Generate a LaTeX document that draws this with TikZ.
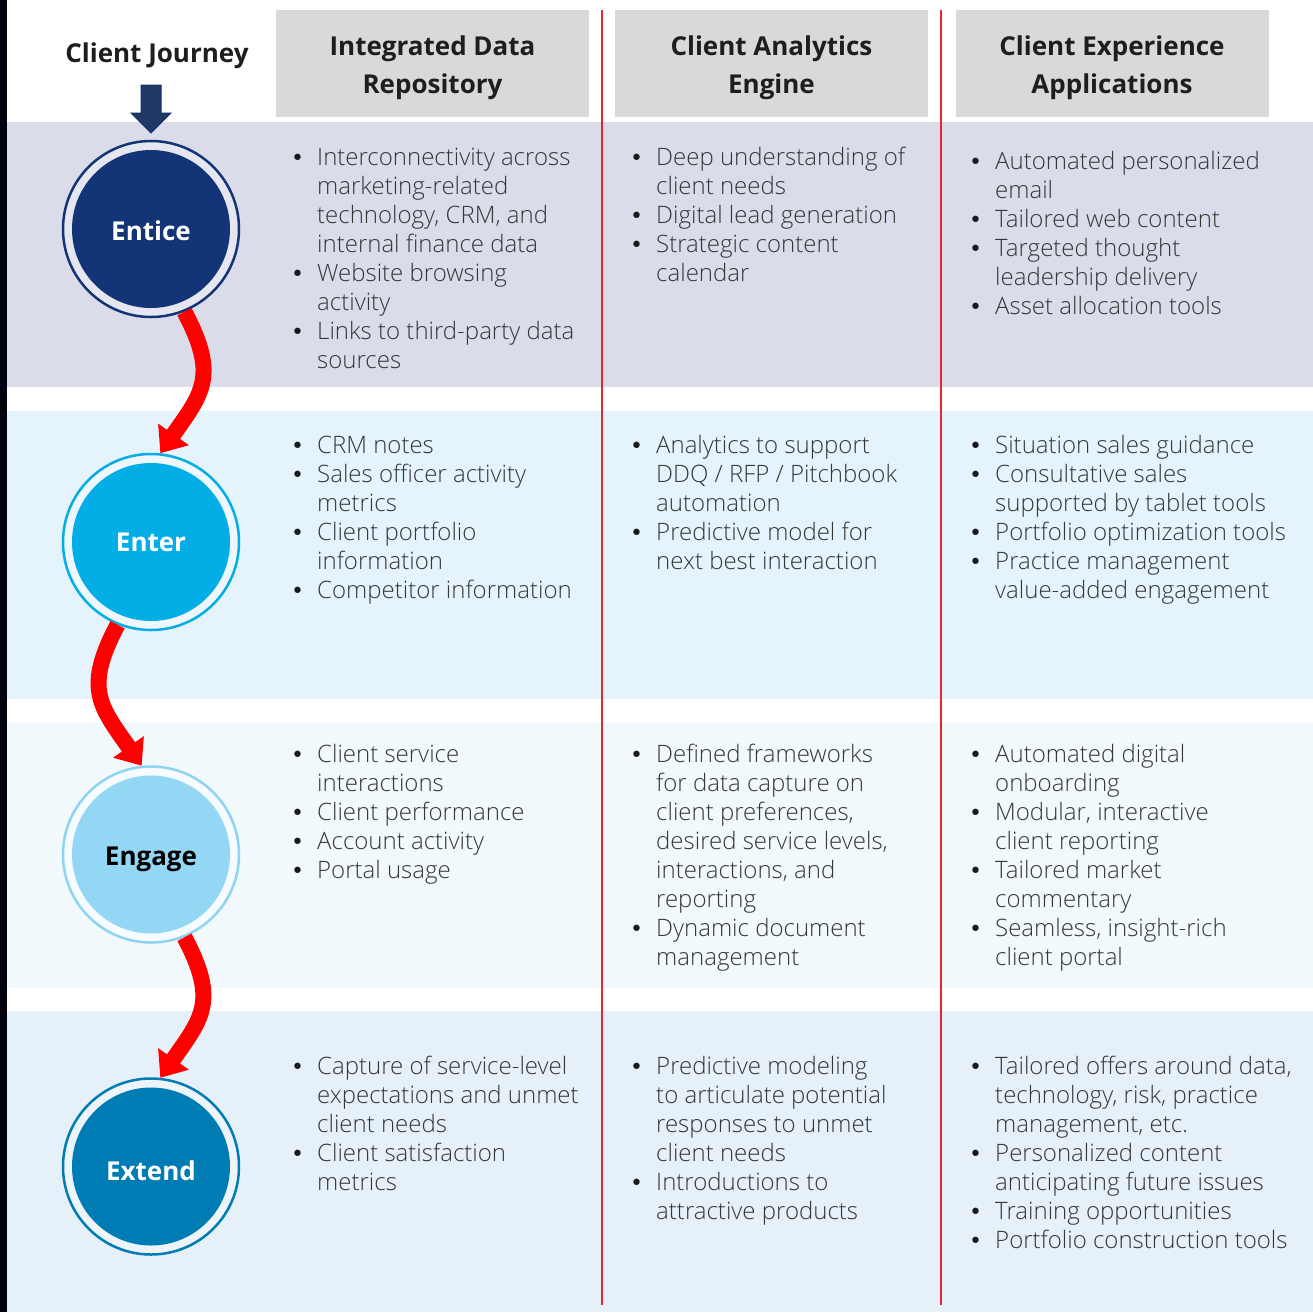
\documentclass[tikz,border=0pt]{standalone}
\usepackage{fontspec}
\setmainfont{Open Sans}
\newfontfamily\lightfont{Open Sans Light}
\newfontfamily\bulfont{DejaVu Sans}
\usetikzlibrary{arrows.meta}
\definecolor{edgeblk}{HTML}{02030F}
\definecolor{hdrgray}{HTML}{D9D9D9}
\definecolor{bandA}{HTML}{DADCEA}
\definecolor{bandB}{HTML}{E5F4FC}
\definecolor{bandC}{HTML}{F1F9FD}
\definecolor{bandD}{HTML}{E5F0F8}
\definecolor{cEntice}{HTML}{133577}
\definecolor{cEnter}{HTML}{03ADE6}
\definecolor{cEngage}{HTML}{93D7F5}
\definecolor{cEngageRing}{HTML}{8FD3F3}
\definecolor{cExtend}{HTML}{007CB5}
\definecolor{sepred}{HTML}{E8262B}
\definecolor{navy}{HTML}{1F3864}
\definecolor{navyline}{HTML}{14306B}
\definecolor{txt}{HTML}{363636}
\definecolor{bultxt}{HTML}{1A1A1A}
\definecolor{hdtxt}{HTML}{1E1E1E}
\newcommand\bul{\llap{\textcolor{bultxt}{\bulfont\fontsize{22}{29}\selectfont\textbullet}\hspace{13pt}}}
\begin{document}
\begin{tikzpicture}[x=1pt,y=-1pt,
  hdrbox/.style={fill=hdrgray, minimum width=313pt, minimum height=107pt, inner sep=0pt},
  hdrtxt/.style={inner sep=0pt, align=center, text=hdtxt, font=\bfseries\fontsize{26}{38}\selectfont},
  cell/.style={anchor=base west, inner sep=0pt, text=txt, font=\lightfont\fontsize{24}{29}\selectfont},
  ring/.style={circle, inner sep=0pt, minimum size=176pt, line width=2.5pt},
  stage/.style={circle, inner sep=0pt, minimum size=158pt},
  stagelbl/.style={anchor=base, inner sep=0pt, font=\bfseries\fontsize{26}{30}\selectfont},
  flow/.style={draw=red, line width=16pt, -{Triangle[width=36pt,length=23pt]}},
  sepline/.style={draw=sepred, line width=1.6pt}]
\useasboundingbox (0,0) rectangle (1313,1312);
\fill[white] (0,0) rectangle (1313,1312);
\fill[edgeblk] (0,0) rectangle (7,1312);
% row bands
\fill[bandA] (7,122) rectangle (1313,387);
\fill[bandB] (7,411) rectangle (1313,699);
\fill[bandC] (7,723) rectangle (1313,988);
\fill[bandD] (7,1011) rectangle (1313,1312);
% headers
\node[text=hdtxt, font=\bfseries\fontsize{26}{38}\selectfont] (cj) at (157,56) {Client Journey};
\node[hdrbox] (h1) at (432.5,63.5) {};
\node[hdrbox] (h2) at (771.5,63.5) {};
\node[hdrbox] (h3) at (1112,63.5) {};
\node[hdrtxt] (h1t) at ([yshift=-4pt]h1.center) {Integrated Data\\Repository};
\node[hdrtxt] (h2t) at ([yshift=-4pt]h2.center) {Client Analytics\\Engine};
\node[hdrtxt] (h3t) at ([yshift=-4pt]h3.center) {Client Experience\\Applications};
% separators
\draw[sepline] (602,10) -- (602,1305);
\draw[sepline] (941,10) -- (941,1305);
% down arrow
\draw[fill=navy, draw=navyline, line width=1pt] (141,85) -- (161,85) -- (161,113) -- (171,113) -- (151,133) -- (131,113) -- (141,113) -- cycle;
% stages
\node[ring, draw=cEntice, fill=bandA!70!white] (enticeR) at (151,229) {};
\node[stage, fill=cEntice] (entice) at (151,229) {};
\node[stagelbl, text=white] (enticeL) at (151,240) {Entice};
\node[ring, draw=cEnter, fill=bandB!70!white] (enterR) at (151,542) {};
\node[stage, fill=cEnter] (enter) at (151,542) {};
\node[stagelbl, text=white] (enterL) at (151,551.5) {Enter};
\node[ring, draw=cEngageRing, fill=bandC!70!white] (engageR) at (151,854.5) {};
\node[stage, fill=cEngage] (engage) at (151,854.5) {};
\node[stagelbl, text=black] (engageL) at (151,865) {Engage};
\node[ring, draw=cExtend, fill=bandD!70!white] (extendR) at (151,1166.5) {};
\node[stage, fill=cExtend] (extend) at (151,1166.5) {};
\node[stagelbl, text=white] (extendL) at (151,1180) {Extend};
% flow arrows
\draw[flow] (enticeR.-68) to[out=-62,in=55,looseness=1.3] (enterR.84);
\draw[flow] (enterR.-112) to[out=-118,in=125,looseness=1.3] (engageR.96);
\draw[flow] (engageR.-68) to[out=-62,in=55,looseness=1.3] (extendR.84);
% row 1
\node[cell] (r1c1) at (317,165) {\begin{tabular}[t]{@{}l@{}}\bul Interconnectivity across\\marketing-related\\technology, CRM, and\\internal finance data\\\bul Website browsing\\activity\\\bul Links to third-party data\\sources\end{tabular}};
\node[cell] (r1c2) at (656,165) {\begin{tabular}[t]{@{}l@{}}\bul Deep understanding of\\client needs\\\bul Digital lead generation\\\bul Strategic content\\calendar\end{tabular}};
\node[cell] (r1c3) at (995,169) {\begin{tabular}[t]{@{}l@{}}\bul Automated personalized\\email\\\bul Tailored web content\\\bul Targeted thought\\leadership delivery\\\bul Asset allocation tools\end{tabular}};
% row 2
\node[cell] (r2c1) at (317,453) {\begin{tabular}[t]{@{}l@{}}\bul CRM notes\\\bul Sales officer activity\\metrics\\\bul Client portfolio\\information\\\bul Competitor information\end{tabular}};
\node[cell] (r2c2) at (656,453) {\begin{tabular}[t]{@{}l@{}}\bul Analytics to support\\DDQ / RFP / Pitchbook\\automation\\\bul Predictive model for\\next best interaction\end{tabular}};
\node[cell] (r2c3) at (995,453) {\begin{tabular}[t]{@{}l@{}}\bul Situation sales guidance\\\bul Consultative sales\\supported by tablet tools\\\bul Portfolio optimization tools\\\bul Practice management\\value-added engagement\end{tabular}};
% row 3
\node[cell] (r3c1) at (317,762) {\begin{tabular}[t]{@{}l@{}}\bul Client service\\interactions\\\bul Client performance\\\bul Account activity\\\bul Portal usage\end{tabular}};
\node[cell] (r3c2) at (656,762) {\begin{tabular}[t]{@{}l@{}}\bul Defined frameworks\\for data capture on\\client preferences,\\desired service levels,\\interactions, and\\reporting\\\bul Dynamic document\\management\end{tabular}};
\node[cell] (r3c3) at (995,762) {\begin{tabular}[t]{@{}l@{}}\bul Automated digital\\onboarding\\\bul Modular, interactive\\client reporting\\\bul Tailored market\\commentary\\\bul Seamless, insight-rich\\client portal\end{tabular}};
% row 4
\node[cell] (r4c1) at (317,1074) {\begin{tabular}[t]{@{}l@{}}\bul Capture of service-level\\expectations and unmet\\client needs\\\bul Client satisfaction\\metrics\end{tabular}};
\node[cell] (r4c2) at (656,1074) {\begin{tabular}[t]{@{}l@{}}\bul Predictive modeling\\to articulate potential\\responses to unmet\\client needs\\\bul Introductions to\\attractive products\end{tabular}};
\node[cell] (r4c3) at (995,1074) {\begin{tabular}[t]{@{}l@{}}\bul Tailored offers around data,\\technology, risk, practice\\management, etc.\\\bul Personalized content\\anticipating future issues\\\bul Training opportunities\\\bul Portfolio construction tools\end{tabular}};
\end{tikzpicture}
\end{document}
